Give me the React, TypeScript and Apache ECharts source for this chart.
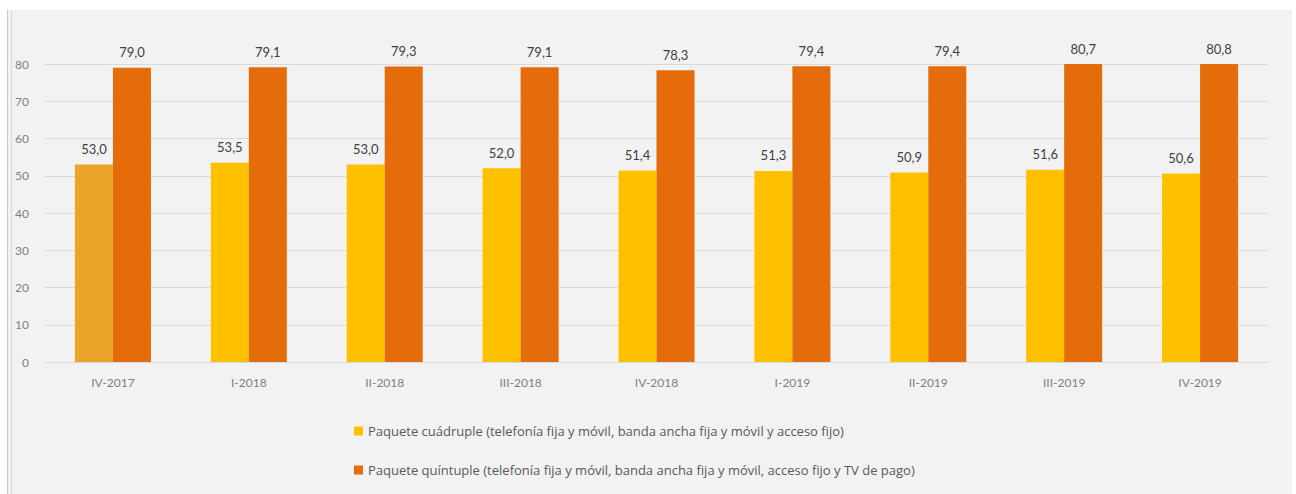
import React, { useEffect, useRef } from "react";
import * as echarts from "echarts";

const categories = ["IV-2017", "I-2018", "II-2018", "III-2018", "IV-2018", "I-2019", "II-2019", "III-2019", "IV-2019"];
const cuadruple = [53.0, 53.5, 53.0, 52.0, 51.4, 51.3, 50.9, 51.6, 50.6];
const quintuple = [79.0, 79.1, 79.3, 79.1, 78.3, 79.4, 79.4, 80.7, 80.8];
const seriesNames = [
  "Paquete cuádruple (telefonía fija y móvil, banda ancha fija y móvil y acceso fijo)",
  "Paquete quíntuple (telefonía fija y móvil, banda ancha fija y móvil, acceso fijo y TV de pago)",
];

const FONT = "Lato, 'Open Sans', sans-serif";

export default function App() {
  const ref = useRef<HTMLDivElement>(null);
  useEffect(() => {
    const chart = echarts.init(ref.current!, null, { renderer: "svg" });
    const fmt = (p: any) => Number(p.value).toFixed(1).replace(".", ",");
    chart.setOption({
      animation: false,
      backgroundColor: "#ffffff",
      graphic: [
        { type: "rect", z: -10, shape: { x: 8, y: 10, width: 1284, height: 484 }, style: { fill: "#f2f2f2" } },
        { type: "line", z: -9, shape: { x1: 7.5, y1: 10, x2: 7.5, y2: 494 }, style: { stroke: "#c8c8c8", lineWidth: 1 } },
        { type: "line", z: -9, shape: { x1: 11.5, y1: 10, x2: 11.5, y2: 494 }, style: { stroke: "#d6d6d6", lineWidth: 1 } },
      ],
      grid: { left: 45, right: 28, top: 64, bottom: 132, containLabel: false },
      legend: {
        orient: "vertical",
        left: 349,
        top: 417,
        itemGap: 21,
        itemWidth: 9,
        itemHeight: 9,
        icon: "rect",
        textStyle: { color: "#595959", fontSize: 13, fontFamily: "'Open Sans', sans-serif", lineHeight: 18 },
        data: seriesNames,
      },
      xAxis: {
        type: "category",
        data: categories,
        axisLine: { show: true, lineStyle: { color: "#d9d9d9" } },
        axisTick: { show: false },
        axisLabel: { color: "#7f7f7f", fontSize: 12, fontFamily: FONT, margin: 14 },
      },
      yAxis: {
        type: "value",
        min: 0,
        max: 80,
        interval: 10,
        axisLine: { show: false },
        axisTick: { show: false },
        axisLabel: { color: "#7f7f7f", fontSize: 12, fontFamily: FONT, margin: 16 },
        splitLine: { lineStyle: { color: "#d9d9d9", width: 1 } },
      },
      series: [
        {
          name: seriesNames[0],
          type: "bar",
          barWidth: 38,
          barGap: "0%",
          itemStyle: { color: "#ffc000" },
          data: cuadruple.map((v, i) => (i === 0 ? { value: v, itemStyle: { color: "#eba42a" } } : v)),
          label: { show: true, position: "top", distance: 9, formatter: fmt, color: "#404040", fontSize: 13, fontFamily: FONT },
        },
        {
          name: seriesNames[1],
          type: "bar",
          barWidth: 38,
          itemStyle: { color: "#e46c0a" },
          data: quintuple,
          label: { show: true, position: "top", distance: 9, formatter: fmt, color: "#404040", fontSize: 13, fontFamily: FONT },
        },
      ],
    });
    return () => chart.dispose();
  }, []);
  return <div ref={ref} style={{ position: "fixed", left: 0, top: 0, width: 1296, height: 494 }} />;
}
